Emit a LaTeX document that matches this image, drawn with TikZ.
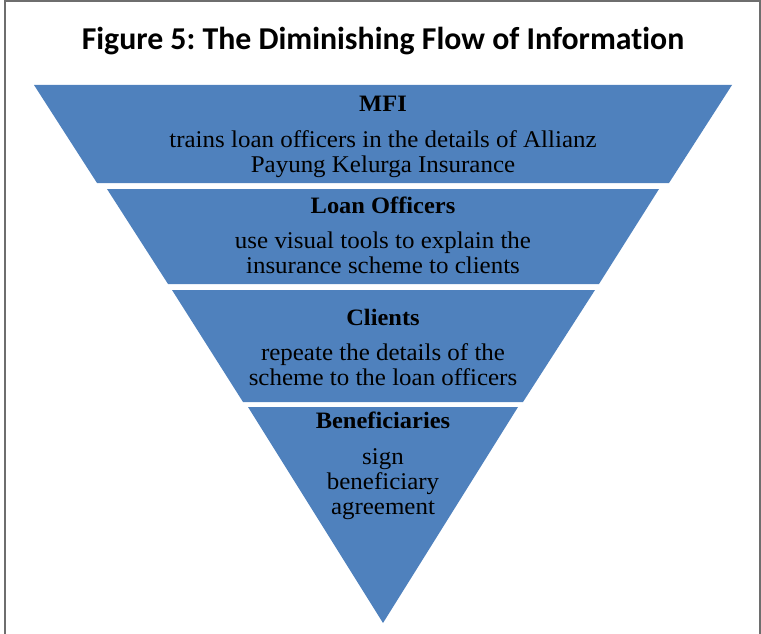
\documentclass[tikz,border=0pt]{standalone}
\usepackage{fontspec}
\setmainfont{Liberation Serif}[FakeStretch=1.04]
\newfontfamily\titlefont{Carlito}[Ligatures=NoCommon]
\begin{document}
\frenchspacing
\begin{tikzpicture}[x=1pt,y=-1pt,
  band/.style={fill=bandblue,draw=none},
  frameline/.style={draw=framegray,line width=2pt},
  head/.style={anchor=base,inner sep=0pt,font=\fontsize{23.5}{25}\selectfont\bfseries},
  body/.style={anchor=base,inner sep=0pt,font=\fontsize{24}{25}\selectfont}]
\definecolor{bandblue}{HTML}{4F81BD}
\definecolor{framegray}{HTML}{6E6E6E}
\useasboundingbox (0,0) rectangle (761,634);
% outer frame (open at the bottom)
\draw[frameline] (4.5,650) -- (4.5,1) -- (759.5,1) -- (759.5,650);
% title
\node[anchor=base,inner sep=0pt,font=\titlefont\fontsize{31.8}{34}\selectfont\bfseries] (title) at (383,50)
  {Figure 5: The Diminishing Flow of Information};
% the four slices of the inverted pyramid
\fill[band] (34,85) -- (732,85) -- (669,183) -- (97,183) -- cycle;
\fill[band] (107,189) -- (659,189) -- (599,284) -- (168,284) -- cycle;
\fill[band] (172,290) -- (595,290) -- (523,402) -- (243,402) -- cycle;
\fill[band] (248,407) -- (518,407) -- (383,623) -- cycle;
% slice 1
\node[head] (mfi) at (383,112) {MFI};
\node[body] (mfiA) at (383,147) {trains loan officers in the details of Allianz};
\node[body] (mfiB) at (383,172) {Payung Kelurga Insurance};
% slice 2
\node[head] (lo) at (383,213) {Loan Officers};
\node[body] (loA) at (383,248) {use visual tools to explain the};
\node[body] (loB) at (383,273) {insurance scheme to clients};
% slice 3
\node[head] (cl) at (383,325) {Clients};
\node[body] (clA) at (383,360) {repeate the details of the};
\node[body] (clB) at (383,385) {scheme to the loan officers};
% slice 4
\node[head] (be) at (383,428) {Beneficiaries};
\node[body] (beA) at (383,464) {sign};
\node[body] (beB) at (383,489) {beneficiary};
\node[body] (beC) at (383,514) {agreement};
\end{tikzpicture}
\end{document}
